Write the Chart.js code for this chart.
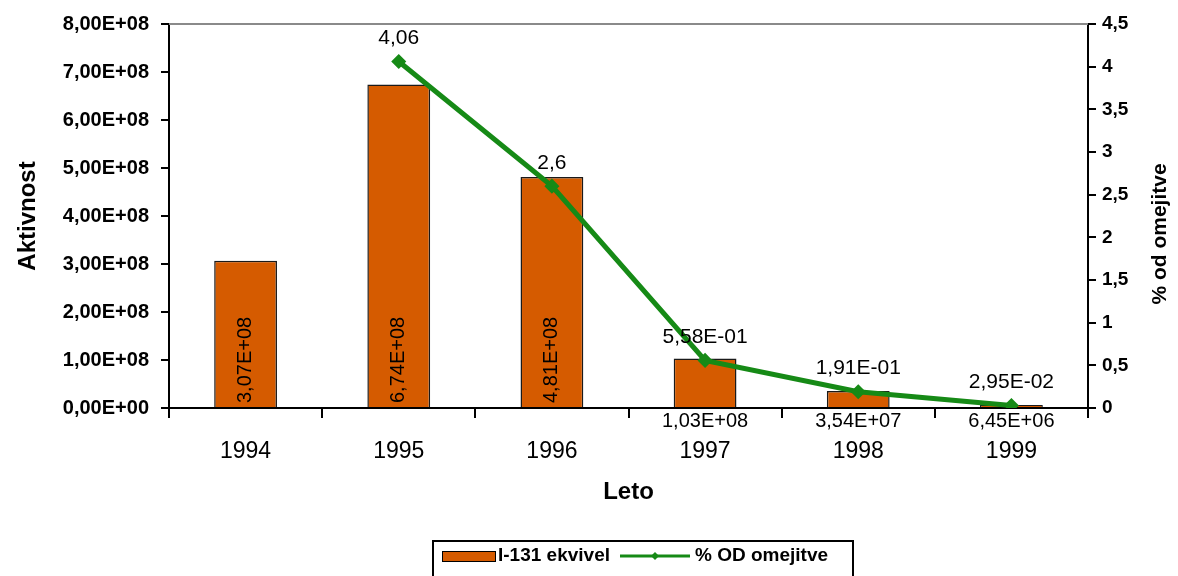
<!DOCTYPE html>
<html>
<head>
<meta charset="utf-8">
<title>I-131 ekvivel</title>
<script src="https://cdn.jsdelivr.net/npm/chart.js@4.4.0/dist/chart.umd.min.js"></script>
<style>
    html, body { margin: 0; padding: 0; background: #fff; }
    #chart { display: block; }
</style>
</head>
<body>
<canvas id="chart" width="1178" height="576"></canvas>
<script>
    "use strict";

    // Data
    var years = ["1994", "1995", "1996", "1997", "1998", "1999"];
    var activity = [3.07e8, 6.74e8, 4.81e8, 1.03e8, 3.54e7, 6.45e6];
    var percentOfLimit = [null, 4.06, 2.6, 0.558, 0.191, 0.0295];
    var activityAxis = [0, 8e8, 1e8];   // min, max, step
    var percentAxis = [0, 4.5, 0.5];

    var orange = "#d55b00";
    var green = "#168a16";
    var fontFamily = "'Liberation Sans', Arial, sans-serif";

    // 8.00e+8 -> "8,00E+08"
    function sci(v) {
        if (v === 0) return "0,00E+00";
        var e = Math.floor(Math.log10(Math.abs(v)));
        var m = v / Math.pow(10, e);
        var s = m.toFixed(2).replace(".", ",");
        var ex = Math.abs(e) < 10 ? "0" + Math.abs(e) : "" + Math.abs(e);
        return s + "E" + (e < 0 ? "-" : "+") + ex;
    }

    function comma(v) {
        return String(v).replace(".", ",");
    }

    function lineLabel(v) {
        return v >= 1 ? comma(v) : sci(v);
    }


    // Value labels, right axis title, top rule and legend
    var extras = {
        id: "extras",
        afterDatasetsDraw: function (chart) {
            var ctx = chart.ctx;
            ctx.save();
            ctx.fillStyle = "#000";

            // bar labels
            var barMeta = chart.getDatasetMeta(1);
            ctx.font = "20px " + fontFamily;
            barMeta.data.forEach(function (bar, i) {
                var txt = sci(activity[i]);
                var w = ctx.measureText(txt).width;
                var h = bar.base - bar.y;
                if (h > w + 12) {
                    ctx.save();
                    ctx.translate(bar.x, bar.base - 4);
                    ctx.rotate(-Math.PI / 2);
                    ctx.textAlign = "left";
                    ctx.textBaseline = "middle";
                    ctx.fillText(txt, 0, 0);
                    ctx.restore();
                } else {
                    ctx.textAlign = "center";
                    ctx.textBaseline = "middle";
                    ctx.fillText(txt, bar.x, bar.base + 14);
                }
            });

            // line labels
            var lineMeta = chart.getDatasetMeta(0);
            ctx.font = "21px " + fontFamily;
            ctx.textAlign = "center";
            ctx.textBaseline = "middle";
            lineMeta.data.forEach(function (pt, i) {
                if (percentOfLimit[i] === null) return;
                ctx.fillText(lineLabel(percentOfLimit[i]), pt.x, pt.y - 23);
            });
            ctx.restore();
        },
        afterDraw: function (chart) {
            var ctx = chart.ctx;
            var area = chart.chartArea;
            ctx.save();

            // gray rule on top of plot
            ctx.strokeStyle = "#8a8a8a";
            ctx.lineWidth = 2;
            ctx.beginPath();
            ctx.moveTo(area.left, area.top);
            ctx.lineTo(area.right, area.top);
            ctx.stroke();

            // right axis title, reads bottom to top
            ctx.fillStyle = "#000";
            ctx.font = "bold 21px " + fontFamily;
            ctx.translate(1160, (area.top + area.bottom) / 2 + 18);
            ctx.rotate(-Math.PI / 2);
            ctx.textAlign = "center";
            ctx.textBaseline = "middle";
            ctx.fillText("% od omejitve", 0, 0);
            ctx.restore();

            // legend
            ctx.save();
            var lx = 432, ly = 540, midY = 556;
            ctx.strokeStyle = "#000";
            ctx.lineWidth = 2;
            ctx.strokeRect(lx + 1, ly + 1, 420, 44);
            ctx.fillStyle = orange;
            ctx.fillRect(lx + 10, midY - 5, 53, 10);
            ctx.lineWidth = 1;
            ctx.strokeRect(lx + 10.5, midY - 4.5, 53, 10);
            ctx.fillStyle = "#000";
            ctx.font = "bold 19px " + fontFamily;
            ctx.textAlign = "left";
            ctx.textBaseline = "middle";
            ctx.fillText("I-131 ekvivel", lx + 66, midY);
            ctx.strokeStyle = green;
            ctx.lineWidth = 3;
            ctx.beginPath();
            ctx.moveTo(lx + 188, midY);
            ctx.lineTo(lx + 258, midY);
            ctx.stroke();
            ctx.fillStyle = green;
            ctx.beginPath();
            ctx.moveTo(lx + 223, midY - 4);
            ctx.lineTo(lx + 227, midY);
            ctx.lineTo(lx + 223, midY + 4);
            ctx.lineTo(lx + 219, midY);
            ctx.closePath();
            ctx.fill();
            ctx.fillStyle = "#000";
            ctx.fillText("% OD omejitve", lx + 263, midY);
            ctx.restore();
        }
    };


    // Combined chart
    var ctx1 = document.getElementById("chart").getContext("2d");
    var myChart1 = new Chart(ctx1, {
        type: "bar",
        data: {
            labels: years,
            datasets: [{
                    type: "line",
                    label: "% OD omejitve",
                    data: percentOfLimit,
                    yAxisID: "y1",
                    borderColor: green,
                    backgroundColor: green,
                    borderWidth: 5,
                    pointStyle: "rectRot",
                    pointRadius: 4,
                    fill: false,
                    tension: 0,
                    order: 0
                }, {
                    type: "bar",
                    label: "I-131 ekvivel",
                    data: activity,
                    yAxisID: "y",
                    backgroundColor: orange,
                    borderColor: "#1a1a1a",
                    borderWidth: 1.5,
                    categoryPercentage: 1,
                    barPercentage: 0.41,
                    order: 1
                }
            ]
        },
        options: {
            responsive: false,
            animation: false,
            layout: {
                padding: { top: 22, bottom: 60, left: 0, right: 0 }
            },
            plugins: {
                legend: { display: false },
                tooltip: { enabled: false }
            },
            scales: {
                x: {
                    afterFit: function (scale) { scale.height = 108; },
                    grid: {
                        drawOnChartArea: false,
                        color: "#000",
                        lineWidth: 2,
                        tickLength: 10
                    },
                    border: { color: "#000", width: 2 },
                    ticks: {
                        color: "#000",
                        padding: 20,
                        font: { size: 23, family: fontFamily }
                    },
                    title: {
                        display: true,
                        text: "Leto",
                        color: "#000",
                        padding: 9,
                        font: { size: 24, weight: "bold", family: fontFamily }
                    }
                },
                y: {
                    position: "left",
                    min: activityAxis[0],
                    max: activityAxis[1],
                    afterFit: function (scale) { scale.width = 169; },
                    grid: {
                        drawOnChartArea: false,
                        color: "#000",
                        lineWidth: 2,
                        tickLength: 8
                    },
                    border: { color: "#000", width: 2 },
                    ticks: {
                        stepSize: activityAxis[2],
                        color: "#000",
                        padding: 12,
                        font: { size: 20, weight: "bold", family: fontFamily },
                        callback: function (value) { return sci(value); }
                    },
                    title: {
                        display: true,
                        text: "Aktivnost",
                        color: "#000",
                        padding: 14,
                        font: { size: 24, weight: "bold", family: fontFamily }
                    }
                },
                y1: {
                    position: "right",
                    min: percentAxis[0],
                    max: percentAxis[1],
                    afterFit: function (scale) { scale.width = 90; },
                    grid: {
                        drawOnChartArea: false,
                        color: "#000",
                        lineWidth: 2,
                        tickLength: 8
                    },
                    border: { color: "#000", width: 2 },
                    ticks: {
                        stepSize: percentAxis[2],
                        color: "#000",
                        padding: 6,
                        font: { size: 19, weight: "bold", family: fontFamily },
                        callback: function (value) { return comma(value); }
                    }
                }
            }
        },
        plugins: [extras]
    });
</script>
</body>
</html>
